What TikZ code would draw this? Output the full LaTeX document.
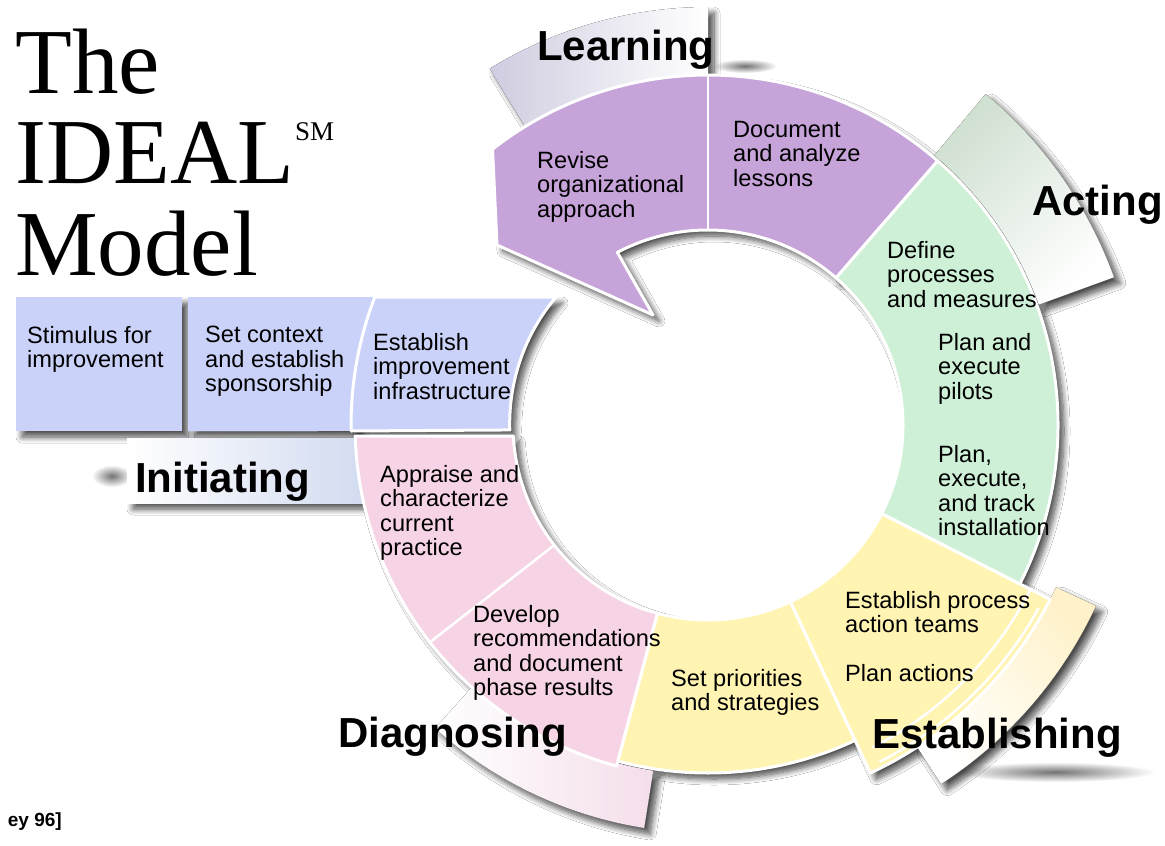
\documentclass[tikz,border=0pt]{standalone}
\usepackage{fontspec}
\setmainfont{Liberation Sans}
\newfontfamily\serifT{Liberation Serif}
\usetikzlibrary{shadows.blur}
\definecolor{cPurple}{HTML}{C6A3D9}
\definecolor{cGreen}{HTML}{CEF0D6}
\definecolor{cYellow}{HTML}{FFF4B2}
\definecolor{cPink}{HTML}{F6D4E5}
\definecolor{cBlue}{HTML}{CBD2FA}
\definecolor{bLearn}{HTML}{D0CCE0}
\definecolor{bAct}{HTML}{D0E0D1}
\definecolor{bEst}{HTML}{FFF2CA}
\definecolor{bDiag}{HTML}{F4DEEB}
\definecolor{bInit}{HTML}{D2DBF0}
\tikzset{
  shad/.style={white, blur shadow={shadow xshift=6pt, shadow yshift=-6pt, shadow blur radius=6pt, shadow opacity=70, shadow blur steps=10}},
  softshad/.style={inner color=black!55, outer color=white},
  seg/.style={draw=white, line width=3pt, line join=round},
  body/.style={anchor=north west, inner sep=0pt, align=left, font=\fontsize{23.6}{24.5}\selectfont},
  phase/.style={anchor=base west, inner sep=0pt, font=\fontsize{42}{48}\selectfont\bfseries},
  ttl/.style={anchor=base west, inner sep=0pt, font=\fontsize{93}{93}\selectfont\serifT},
}
% shapes (centre of ring at origin)
\newcommand\ShBandL[1]{\fill[#1] (90:350) -- (90:418) arc[start angle=90,end angle=121.5,radius=418] -- (121.5:350) arc[start angle=121.5,end angle=90,radius=350] -- cycle;}
\newcommand\ShBandA[1]{\fill[#1] (20:352) -- (20:432) arc[start angle=20,end angle=50,radius=432] -- (50:352) arc[start angle=50,end angle=20,radius=352] -- cycle;}
\newcommand\ShBandE[1]{\fill[#1] (-25:384) -- (-25:428) arc[start angle=-25,end angle=-57,radius=428] -- (-57:384) arc[start angle=-57,end angle=-25,radius=384] -- cycle;}
\newcommand\ShBandD[1]{\fill[#1] (-99:350) -- (-99:408) arc[start angle=-99,end angle=-132,radius=408] -- (-132:350) arc[start angle=-132,end angle=-99,radius=350] -- cycle;}
\newcommand\ShBandI[1]{\fill[#1] (-581,-13) rectangle (-345,-78);}
\newcommand\ShBoxA[1]{\fill[#1] (-692,128) rectangle (-526,-6);}
\newcommand\ShBoxB[1]{\fill[#1] (-520,128) -- (-327.9,128) arc[start angle=158.68,end angle=180.98,radius=352] -- (-520,-6) -- cycle;}
\newcommand\ShBoxC[1]{\fill[#1] (-333.3,128) -- (-152,128) arc[start angle=139.9,end angle=181.76,radius=197] -- (-356.9,-6) arc[start angle=180.96,end angle=159.0,radius=357] -- cycle;}
\newcommand\ShPink[1]{\fill[#1] (-352.8,-11) -- (-194.7,-11) arc[start angle=183.23,end angle=255,radius=195] -- (255:353) arc[start angle=255,end angle=181.79,radius=353] -- cycle;}
\newcommand\ShYelA[1]{\fill[#1] (-105:195) -- (-105:348) arc[start angle=-105,end angle=-65,radius=348] -- (-65:195) arc[start angle=-65,end angle=-105,radius=195] -- cycle;}
\newcommand\ShYelB[1]{\fill[#1] (-65:195) -- (-65:384) arc[start angle=-65,end angle=-27,radius=384] -- (-27:195) arc[start angle=-27,end angle=-65,radius=195] -- cycle;}
\newcommand\ShGreen[1]{\fill[#1] (-27:195) -- (-27:350) arc[start angle=-27,end angle=49,radius=350] -- (49:195) arc[start angle=49,end angle=-27,radius=195] -- cycle;}
\newcommand\ShLearn[1]{\fill[#1] (49:195) -- (49:350) arc[start angle=49,end angle=128,radius=350] -- (-211,180) -- (-55,110) -- (117.7:195) arc[start angle=117.7,end angle=49,radius=195] -- cycle;}
\begin{document}
\begin{tikzpicture}[x=1pt,y=1pt]
\useasboundingbox (0,0) rectangle (1165,-846);
\fill[white] (0,0) rectangle (1165,-846);
% extra soft shadows
\shade[softshad] (745,-66) ellipse [x radius=32, y radius=7];
\shade[softshad] (112,-476) ellipse [x radius=20, y radius=11];
\shade[softshad] (1055,-772) ellipse [x radius=100, y radius=10];
\begin{scope}[shift={(708,-425)}]
  % pass 1: shadows
  \ShBandL{shad}\ShBandA{shad}\ShBandE{shad}\ShBandD{shad}\ShBandI{shad}
  \ShBoxA{shad}\ShBoxB{shad}\ShBoxC{shad}\ShPink{shad}\ShYelA{shad}\ShYelB{shad}\ShGreen{shad}\ShLearn{shad}
  % pass 2: label bands
  \ShBandL{left color=bLearn, right color=white}
  \ShBandA{top color=bAct, bottom color=white, shading angle=45}
  \ShBandE{top color=bEst, bottom color=white, shading angle=-45}
  \ShBandD{left color=white, right color=bDiag}
  \ShBandI{left color=white, right color=bInit}
  % pass 2: ring segments
  \ShBoxA{cBlue}\ShBoxB{cBlue}
  \ShBoxC{cBlue, seg}
  \ShPink{cPink, seg}
  \ShYelA{cYellow, seg}
  \ShYelB{cYellow, seg}
  \ShGreen{cGreen, seg}
  \ShLearn{cPurple, seg}
  % dividers
  \draw[white, line width=2.5pt] (90:195) -- (90:350);
  \draw[white, line width=2.5pt] (218:195) -- (218:353);
  \draw[white, line width=2.5pt] (-27:362) arc[start angle=-27,end angle=-63,radius=362];
  \draw[white, line width=2.5pt] (-29:378) arc[start angle=-29,end angle=-63,radius=378];
\end{scope}
% title
\node[ttl] (tThe) at (15,-93) {The};
\node[ttl] (tIdeal) at (15,-183) {IDEAL};
\node[anchor=base west, inner sep=0pt, font=\fontsize{27}{27}\selectfont\serifT] (tSM) at (295,-140) {SM};
\node[ttl] (tModel) at (15,-275) {Model};
% phase labels
\node[phase] (lLearn) at (537,-60) {Learning};
\node[phase] (lAct) at (1032,-215) {Acting};
\node[phase] (lInit) at (135,-492) {Initiating};
\node[phase] (lDiag) at (338,-747) {Diagnosing};
\node[phase] (lEst) at (872,-748) {Establishing};
% activity texts
\node[body] (tRev) at (537,-151) {Revise\\organizational\\approach};
\node[body] (tDoc) at (733,-121) {Document\\and analyze\\lessons};
\node[body] (tDef) at (887,-241) {Define\\processes\\and measures};
\node[body] (tPil) at (938,-333) {Plan and\\execute\\pilots};
\node[body] (tIns) at (938,-445) {Plan,\\execute,\\and track\\installation};
\node[body] (tPat) at (845,-591) {Establish process\\action teams};
\node[body] (tPla) at (845,-664) {Plan actions};
\node[body] (tPri) at (671,-669) {Set priorities\\and strategies};
\node[body] (tDev) at (473,-605) {Develop\\recommendations\\and document\\phase results};
\node[body] (tApp) at (380,-465) {Appraise and\\characterize\\current\\practice};
\node[body] (tSti) at (27,-326) {Stimulus for\\improvement};
\node[body] (tCtx) at (205,-326) {Set context\\and establish\\sponsorship};
\node[body] (tInf) at (373,-333) {Establish\\improvement\\infrastructure};
% reference
\node[anchor=base east, inner sep=0pt, font=\fontsize{19}{19}\selectfont\bfseries] (tRef) at (62,-826) {ey 96]};
\end{tikzpicture}
\end{document}
